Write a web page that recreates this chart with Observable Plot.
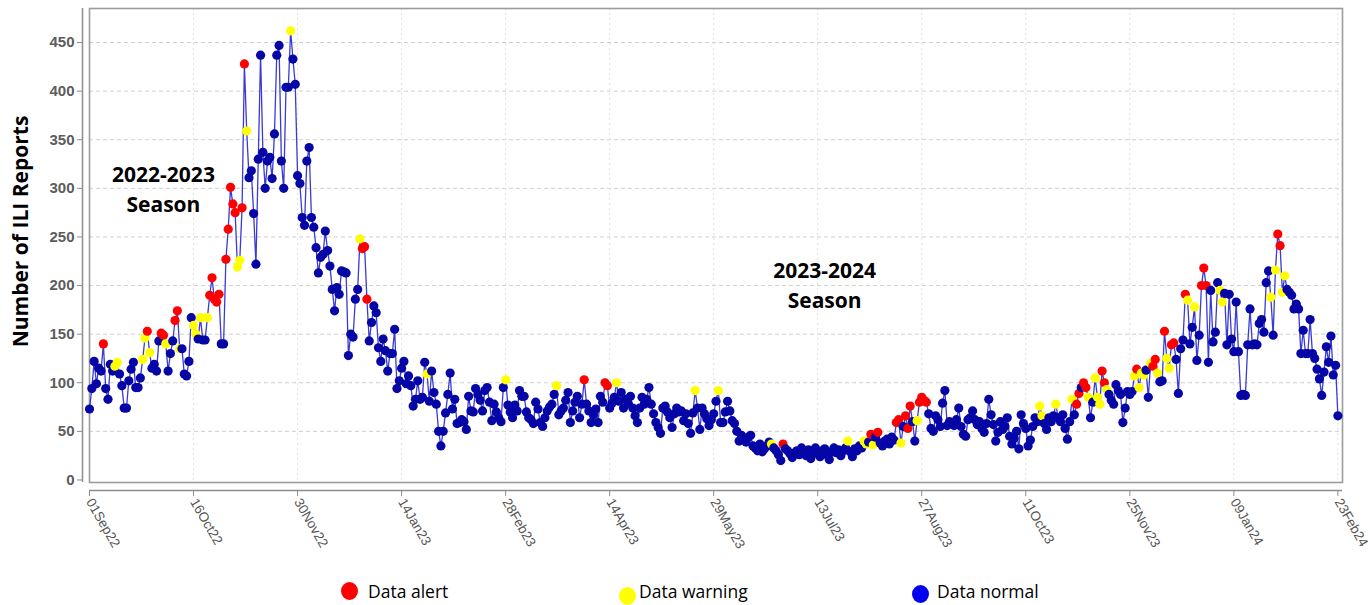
<!DOCTYPE html>
<html>
<head>
<meta charset="utf-8">
<script src="https://cdn.jsdelivr.net/npm/d3@7"></script>
<script src="https://cdn.jsdelivr.net/npm/@observablehq/plot@0.6"></script>
<style>
  html, body { margin: 0; padding: 0; background: #fff; }
  #wrap { position: relative; width: 1370px; height: 605px; overflow: hidden; }
  .sw { position: absolute; border-radius: 50%; }
  .lt { position: absolute; font-family: "Open Sans", sans-serif; font-size: 17.5px; color: #000; line-height: 20px; white-space: nowrap; }
</style>
</head>
<body>
<div id="wrap"><div id="chart"></div><div id="legend"></div></div>
<script>
// ---- data: daily ILI report counts, split in segments with their start dates ----
const startA = "2022-09-01";
const valsA = [73,94,122,99,115,112,140,94,83,119, 112,117,121,109,97,74,74,102,114,121, 95,95,105,124,146,153,131,115,119,112,
  143,151,149,140,112,130,143,164,174,135, 135,109,107,122,167,159,150,145,167,144, 144,167,190,208,186,183,191,140,140,227,
  258,301,284,275,219,226,280,428,359,311, 318,274,222,330,437];
const statA = ["nnnnnnannn","nwwnnnnnnn","nnnwwawnnn","naawnnnaaw","nnnnnwwnwn","nwaaaaanna","aaaawwaawn","nnnnn"].join("");

const startB = "2022-11-15";
const valsB = [337,300,328,332,310,356,437,447,328,300, 404,404,462,433,407,313,305,270,262,328, 342,270,260,239,213,229,232,256,236,220,
  196,174,198,191,215,214,213,128,150,147, 186,196,248,238,240,186,143,162,179,172, 136,122,145,133,112,130,130,155,94,102,
  115,122,99,107,97,76,83,102,83,85, 121,109,81,112,90,78,50,35];
const statB = ["nnnnnnnnnn","nnwnnnnnnn","nnnnnnnnnn","nnnnnnnnnn","nnwaaannnn","nnnnnnnnnn","nnnnnnnnnn","nwnnnnnn"].join("");

const startC = "2023-02-01";
const valsC = [50,69,88,110,73,83,58,59,62,60, 52,86,71,70,94,88,82,71,92,95, 80,61,78,70,64,60,95,103,77,70,
  64,77,71,92,86,86,70,64,62,58, 80,73,59,55,64,71,75,78,88,97, 67,71,74,82,90,59,71,80,86,64,
  78,103,78,71,59,67,73,59,86,80, 100,97,74,79,85,100];
const statC = ["nnnnnnnnnn","nnnnnnnnnn","nnnnnnnwnn","nnnnnnnnnn","nnnnnnnnnw","nnnnnnnnnn","nannnnnnnn","aannnw"].join("");

const startD = "2023-04-18";
const valsD = [81,90,74,83,79,86,74,66,59,74, 85,78,83,95,78,68,59,54,48,74, 76,70,64,54,68,74,70,71,61,68,
  58,48,69,92,74,52,74,68,63,56, 62,68,81,92,59,59,70,81,71,61, 58,50,40,46,42,39,44,46,35,33,
  30,37,29,32,35,39,37,33,30,26, 20,37,32,30,27,23,28,30];
const statD = ["nnnnnnnnnn","nnnnnnnnnn","nnnnnnnnnn","nnnwnnnnnn","nnnwnnnnnn","nnnnnnnnnn","nnnnnnwnnn","nannnnnn"].join("");

const startE = "2023-07-05";
const valsE = [26,33,28,25,31,22,29,33,27,24, 30,32,26,21,29,33,28,31,25,30, 33,40,29,24,32,30,35,33,40,37,
  39,47,36,44,49,38,35,40,42,37, 44,41,59,62,38,55,66,53,76,60, 40,61,80,85,82,80,68,53,50,66,
  62,55,79,92,56,60,58,56,62,74, 55,47,45,62,64,71,62,57];
const statE = ["nnnnnnnnnn","nnnnnnnnnn","nwnnnnnnww","nawnannnnn","nnaawnaaan","nwaaaannnn","nnnnnnnnnn","nnnnnnnn"].join("");

const startF = "2023-09-21";
const valsF = [60,53,49,58,83,67,57,40,49,60, 52,55,64,45,37,43,50,32,67,58, 53,35,41,55,64,60,76,66,58,52,
  64,60,66,78,64,60,67,53,42,60, 83,67,78,89,95,100,95,85,64,80, 105,85,78,112,100,93,88,82,78,98,
  92,88,59,74,91,88,91,107,114,95, 110,108,113,85,120,117,124,110,101];
const statF = ["nnnnnnnnnn","nnnnnnnnnn","nnnnnnwwnn","nnnwnnnnnn","wnaanaawnn","wwwaawnnnn","nnnnnnnwaw","wwnnwaawn"].join("");

const startG = "2023-12-09";
const valsG = [102,153,125,115,139,141,124,89,135,144, 191,185,140,157,178,123,149,200,218,200, 121,195,142,152,203,195,183,192,139,191,
  145,132,183,132,87,88,87,139,176,139, 140,139,161,165,152,203,215,188,149,216, 253,241,193,210,196,193,190,176,181,176,
  130,154,130,130,165,130,125,114,104,87, 111,137,121,148,108,118,66];
const statG = ["nawwaannnn","awnnwnnaaa","nnnnnwwnnn","nnnnnnnnnn","nnnnnnnwnw","aawwnnnnnn","nnnnnnnnnn","nnnnnnn"].join("");

const xTickLabels = ["2022-09-01","2022-10-16","2022-11-30","2023-01-14","2023-02-28","2023-04-14","2023-05-29",
  "2023-07-13","2023-08-27","2023-10-11","2023-11-25","2024-01-09","2024-02-23"];
const yTicks = [0,50,100,150,200,250,300,350,400,450];
const seasonLabels = [
  {date: "2022-10-03", value: 301, text: "2022-2023\nSeason"},
  {date: "2023-07-16", value: 202, text: "2023-2024\nSeason"}
];
const yTitle = "Number of ILI Reports";
const legendItems = [
  {key: "a", label: "Data alert"},
  {key: "w", label: "Data warning"},
  {key: "n", label: "Data normal"}
];
const statusColors = {a: "#ff0000", w: "#ffff00", n: "#0606a6"};
const legendColors = {a: "#ff0000", w: "#ffff00", n: "#0000f0"};

// ---- build table ----
const segments = [[startA, valsA, statA],[startB, valsB, statB],[startC, valsC, statC],[startD, valsD, statD],
  [startE, valsE, statE],[startF, valsF, statF],[startG, valsG, statG]];
const data = [];
for (const [start, vals, stat] of segments) {
  const t0 = new Date(start + "T00:00:00Z");
  vals.forEach((v, i) => data.push({date: d3.utcDay.offset(t0, i), value: v, status: stat[i] || "n"}));
}
const xTicks = xTickLabels.map(s => new Date(s + "T00:00:00Z"));
const xDomain = [new Date("2022-09-01T00:00:00Z"), new Date("2024-02-25T00:00:00Z")];
const yDomain = [-2.6, 485];
const labels = seasonLabels.map(d => ({...d, date: new Date(d.date + "T00:00:00Z")}));

const chart = Plot.plot({
  width: 1370, height: 570,
  marginLeft: 89, marginRight: 28, marginTop: 8, marginBottom: 88,
  style: {background: "transparent", fontFamily: "'Liberation Sans', Arial, sans-serif", overflow: "visible"},
  x: {type: "utc", domain: xDomain, axis: null},
  y: {domain: yDomain, axis: null},
  color: {type: "identity"},
  marks: [
    Plot.gridY(yTicks.filter(v => v > 0), {stroke: "#cfcfcf", strokeOpacity: 1, strokeDasharray: "4,3"}),
    Plot.gridX(xTicks, {stroke: "#e0e0e0", strokeOpacity: 1, strokeDasharray: "2,3"}),
    Plot.frame({stroke: "#9c9c9c", strokeWidth: 1.6}),
    Plot.ruleX([xDomain[0]], {dx: -7, stroke: "#8c8c8c", strokeWidth: 1.5}),
    Plot.ruleY([yDomain[0]], {dy: 8, stroke: "#8c8c8c", strokeWidth: 1.5}),
    Plot.axisY(yTicks, {anchor: "left", tickSize: 5, tickPadding: 3, dx: -7, fontSize: 15, fontWeight: "bold",
      fill: "#5c5c5c", stroke: "#8c8c8c", label: null}),
    Plot.axisX(xTicks, {anchor: "bottom", tickSize: 6, tickPadding: 3, dy: 8, tickRotate: 60, fontSize: 13.5,
      tickFormat: d3.utcFormat("%d%b%y"), fill: "#555", stroke: "#8c8c8c", label: null}),
    Plot.lineY(data, {x: "date", y: "value", stroke: "#3a3ad6", strokeWidth: 1.3}),
    Plot.dot(data, {x: "date", y: "value", r: 4.6, fill: d => statusColors[d.status], stroke: null}),
    Plot.text(labels, {x: "date", y: "value", text: "text", fontSize: 21, fontWeight: "bold",
      fontFamily: "'Open Sans', sans-serif", lineHeight: 1.43, fill: "#000"}),
    Plot.text([yTitle], {frameAnchor: "left", textAnchor: "middle", rotate: -90, dx: -68, dy: -14, fontSize: 21,
      fontWeight: "bold", fontFamily: "'Open Sans', sans-serif", fill: "#000"})
  ]
});
document.getElementById("chart").appendChild(chart);

// ---- legend (below the svg) ----
const legendPos = [{cx: 349, cy: 591, tx: 368}, {cx: 627, cy: 596, tx: 639}, {cx: 920, cy: 594, tx: 937}];
const leg = document.getElementById("legend");
legendItems.forEach((it, i) => {
  const p = legendPos[i];
  const sw = document.createElement("div");
  sw.className = "sw";
  sw.style.cssText = `left:${p.cx - 8.5}px;top:${p.cy - 9}px;width:17px;height:18px;background:${legendColors[it.key]};`;
  leg.appendChild(sw);
  const t = document.createElement("div");
  t.className = "lt";
  t.style.left = p.tx + "px";
  t.style.top = (592 - 11) + "px";
  t.textContent = it.label;
  leg.appendChild(t);
});
</script>
</body>
</html>
